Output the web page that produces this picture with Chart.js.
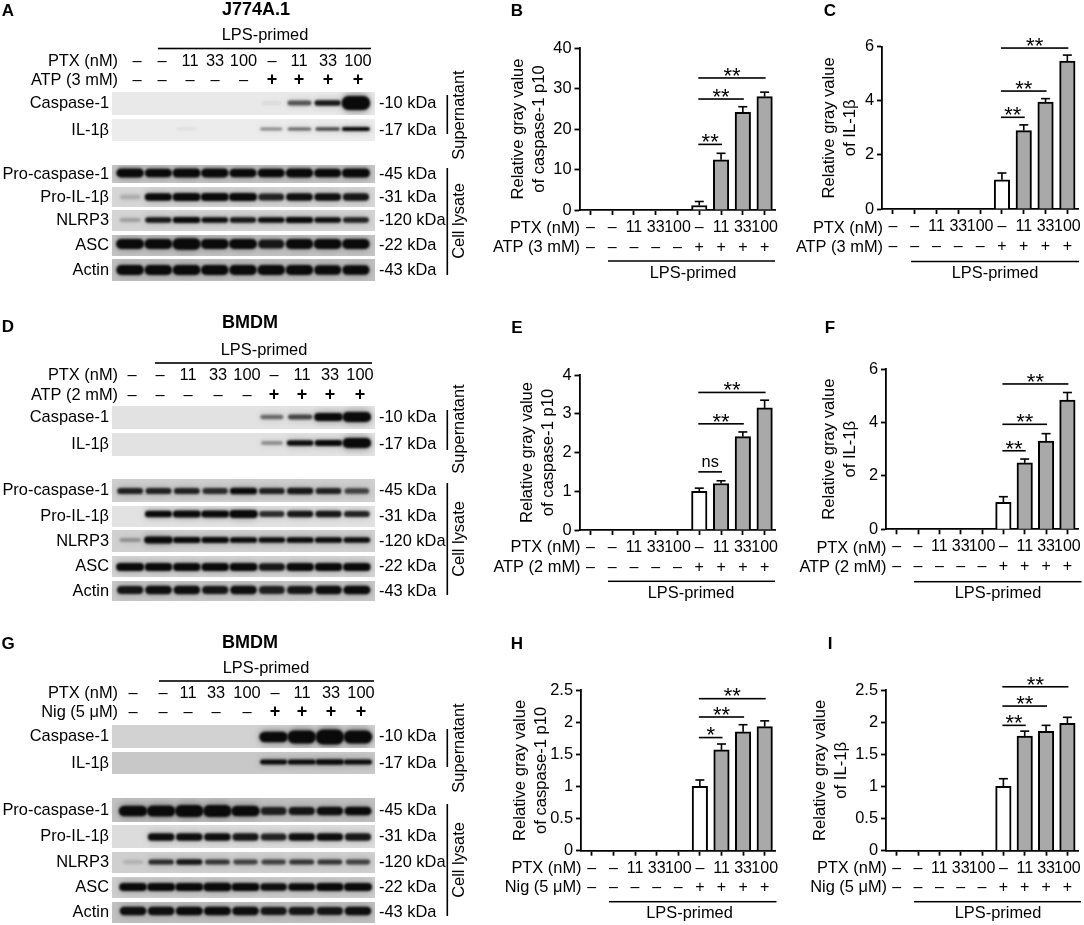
<!DOCTYPE html>
<html>
<head>
<meta charset="utf-8">
<style>
  html, body { margin: 0; padding: 0; background: #fff; }
  #fig { position: relative; width: 1084px; height: 925px; overflow: hidden; }
  canvas { position: absolute; }
</style>
<script src="https://cdn.jsdelivr.net/npm/chart.js@4"></script>
</head>
<body>
<div id="fig"></div>
<script>
// shared labels
const ptxLabels = ['–', '–', '11', '33', '100', '–', '11', '33', '100'];
const stimSigns = ['–', '–', '–', '–', '–', '+', '+', '+', '+'];
const blotNames = ['Caspase-1', 'IL-1β', 'Pro-caspase-1', 'Pro-IL-1β', 'NLRP3', 'ASC', 'Actin'];
const blotSizes = ['-10 kDa', '-17 kDa', '-45 kDa', '-31 kDa', '-120 kDa', '-22 kDa', '-43 kDa'];

// bar values and error bars
const bValues = [0, 0, 0, 0, 0, 1.1, 12.4, 24.1, 28];
const bErrors = [0, 0, 0, 0, 0, 1, 1.6, 1.4, 1.1];
const cValues = [0, 0, 0, 0, 0, 1.08, 2.9, 3.95, 5.47];
const cErrors = [0, 0, 0, 0, 0, 0.25, 0.21, 0.13, 0.22];
const eValues = [0, 0, 0, 0, 0, 1, 1.2, 2.41, 3.15];
const eErrors = [0, 0, 0, 0, 0, 0.08, 0.07, 0.12, 0.2];
const fValues = [0, 0, 0, 0, 0, 1.01, 2.49, 3.3, 4.84];
const fErrors = [0, 0, 0, 0, 0, 0.21, 0.14, 0.28, 0.28];
const hValues = [0, 0, 0, 0, 0, 1, 1.57, 1.85, 1.93];
const hErrors = [0, 0, 0, 0, 0, 0.1, 0.09, 0.11, 0.09];
const iValues = [0, 0, 0, 0, 0, 1, 1.785, 1.857, 1.98];
const iErrors = [0, 0, 0, 0, 0, 0.12, 0.075, 0.093, 0.095];

// significance brackets: from bar, to bar, height in axis units, mark
const bSig = [[5, 6, 16.2, '**'], [5, 7, 27.4, '**'], [5, 8, 32.6, '**']];
const cSig = [[5, 6, 3.39, '**'], [5, 7, 4.36, '**'], [5, 8, 5.95, '**']];
const eSig = [[5, 6, 1.5, 'ns'], [5, 7, 2.74, '**'], [5, 8, 3.55, '**']];
const fSig = [[5, 6, 2.94, '**'], [5, 7, 3.93, '**'], [5, 8, 5.44, '**']];
const hSig = [[5, 6, 1.76, '*'], [5, 7, 2.08, '**'], [5, 8, 2.365, '**']];
const iSig = [[5, 6, 1.95, '**'], [5, 7, 2.25, '**'], [5, 8, 2.55, '**']];

// band strength per lane, one array per blot row (0 = no band)
const aBands = [
  [0, 0, 0, 0, 0, 0.05, 0.55, 0.8, 1.8],
  [0, 0, 0.05, 0, 0, 0.35, 0.5, 0.6, 1],
  [0.95, 0.9, 1, 0.95, 0.9, 0.9, 0.95, 0.9, 1],
  [0.15, 0.9, 1, 1, 1, 0.75, 0.85, 0.85, 0.8],
  [0.2, 0.8, 0.95, 0.85, 0.8, 0.85, 0.95, 0.85, 0.75],
  [1, 1, 1.1, 1, 1, 0.8, 0.95, 1, 0.95],
  [0.95, 0.95, 1, 0.95, 0.95, 0.95, 0.95, 0.9, 0.9]
];
const dBands = [
  [0, 0, 0, 0, 0, 0.45, 0.6, 1.2, 1.4],
  [0, 0, 0, 0, 0, 0.3, 0.85, 0.95, 1.4],
  [0.75, 0.75, 0.75, 0.7, 0.9, 0.75, 0.8, 0.75, 0.6],
  [0, 0.9, 1, 1, 1.1, 0.7, 0.8, 0.8, 0.75],
  [0.25, 1.1, 0.95, 0.95, 0.9, 0.85, 0.9, 0.9, 0.85],
  [1, 0.95, 0.95, 0.95, 1, 0.8, 0.95, 0.95, 0.95],
  [0.8, 0.85, 0.85, 0.8, 0.85, 0.75, 0.8, 0.85, 0.9]
];
const gBands = [
  [0, 0, 0, 0, 0, 1.3, 1.5, 1.7, 1.5],
  [0, 0, 0, 0, 0, 0.9, 1, 1.05, 1],
  [1.1, 1.15, 1.2, 1.2, 1.1, 0.75, 0.8, 0.85, 0.9],
  [0, 0.85, 0.85, 0.85, 0.8, 0.75, 0.85, 0.85, 0.8],
  [0.12, 0.7, 0.8, 0.65, 0.6, 0.6, 0.65, 0.65, 0.6],
  [0.95, 1, 1, 1.05, 1, 0.85, 0.9, 0.95, 1],
  [0.85, 0.85, 0.9, 0.9, 0.85, 0.8, 0.8, 0.8, 0.85]
];

const FONT = '"Liberation Sans", Arial, sans-serif';
Chart.defaults.font.family = FONT;
Chart.defaults.color = '#000';
Chart.defaults.animation = false;

const HEAD = 15; // canvases start a little above their row so titles are not cut

function addCanvas(left, top, w, h) {
  const c = document.createElement('canvas');
  c.width = w; c.height = h;
  c.style.left = left + 'px'; c.style.top = top + 'px';
  c.style.width = w + 'px'; c.style.height = h + 'px';
  document.getElementById('fig').appendChild(c);
  return c;
}

function text(ctx, str, x, y, opts = {}) {
  ctx.save();
  ctx.font = (opts.bold ? 'bold ' : '') + (opts.size || 16.4) + 'px ' + FONT;
  ctx.fillStyle = '#000';
  ctx.textAlign = opts.align || 'center';
  ctx.textBaseline = opts.baseline || 'middle';
  ctx.translate(x, y);
  if (opts.rotate) ctx.rotate(opts.rotate);
  ctx.fillText(str, 0, 0);
  ctx.restore();
}

function hline(ctx, x1, x2, y, w) {
  ctx.fillStyle = '#000';
  ctx.fillRect(x1, y - w / 2, x2 - x1, w);
}

// ---------- bar panels ----------
const barPlugin = {
  id: 'barExtras',
  afterDatasetsDraw(chart, args, o) {
    const { ctx, scales: { x, y } } = chart;
    const ds = chart.data.datasets[0];
    // error bars, upper arm only
    ctx.fillStyle = '#000';
    ds.data.forEach((v, i) => {
      if (!o.errors[i]) return;
      const px = x.getPixelForValue(i);
      const top = y.getPixelForValue(v + o.errors[i]);
      ctx.fillRect(px - 0.8, top, 1.6, y.getPixelForValue(v) - top);
      ctx.fillRect(px - 4.5, top - 0.8, 9, 1.6);
    });
    // brackets
    o.sig.forEach(([a, b, val, mark]) => {
      const py = y.getPixelForValue(val);
      const x1 = x.getPixelForValue(a) - 1, x2 = x.getPixelForValue(b) + 1;
      hline(ctx, x1, x2, py, 1.6);
      if (mark === 'ns') text(ctx, mark, (x1 + x2) / 2, py - 9.5);
      else text(ctx, mark, (x1 + x2) / 2, py + 4.8, { size: 22, baseline: 'alphabetic' });
    });
    // row names, LPS bar and panel letter
    const a = o.area;
    text(ctx, 'PTX (nM)', a.rowRight, a.rowY1, { align: 'right' });
    text(ctx, o.stim, a.rowRight, a.rowY2, { align: 'right' });
    hline(ctx, a.lpsL, a.lpsR, a.lpsY, 1.5);
    text(ctx, 'LPS-primed', a.lpsX, a.lpsY + 12);
    text(ctx, o.letter, a.letterX, a.letterY, { bold: true, size: 17 });
  }
};

function barChart(p) {
  const W = p.W, H = p.H;
  const top0 = p.y0 - (p.y0 ? HEAD : 0); // canvas top in page pixels
  const c = addCanvas(p.x0, top0, W, p.y0 + H - top0);
  const rel = { // plugin draws in canvas coordinates
    rowRight: p.rowRight - p.x0, rowY1: p.rowY1 - top0, rowY2: p.rowY2 - top0,
    lpsL: p.lpsL - p.x0, lpsR: p.lpsR - p.x0, lpsY: p.lpsY - top0, lpsX: p.lpsX - p.x0,
    letterX: p.letterX - p.x0, letterY: p.letterY - top0
  };
  new Chart(c.getContext('2d'), {
    type: 'bar',
    data: {
      labels: ptxLabels.map((t, i) => [t, stimSigns[i]]),
      datasets: [{
        data: p.values,
        backgroundColor: p.values.map((v, i) => i === 5 ? '#ffffff' : '#a9a9a9'),
        borderColor: '#000',
        borderWidth: 2,
        barThickness: 15.5
      }]
    },
    options: {
      responsive: false,
      layout: { padding: { top: p.top - top0, right: p.x0 + W - p.plotR, left: 0, bottom: 0 } },
      plugins: {
        legend: { display: false },
        tooltip: { enabled: false },
        barExtras: { errors: p.errors, sig: p.sig, stim: p.stim, letter: p.letter, area: rel }
      },
      scales: {
        x: {
          grid: { offset: false, drawOnChartArea: false, tickLength: 5, tickColor: '#000', tickWidth: 1.8 },
          border: { color: '#000', width: 1.8 },
          ticks: { autoSkip: false, maxRotation: 0, minRotation: 0, padding: 3, color: '#000',
                   font: { size: 16, lineHeight: 1.22 } },
          afterFit: s => { s.height = p.y0 + H - p.bottom; }
        },
        y: {
          min: 0, max: p.max,
          grid: { drawOnChartArea: false, tickLength: 5, tickColor: '#000', tickWidth: 1.8 },
          border: { color: '#000', width: 1.8 },
          ticks: { stepSize: p.step, padding: 3, color: '#000', font: { size: 16.4 }, callback: v => String(v) },
          title: { display: true, text: p.title, color: '#000', align: 'center',
                   font: { size: 16.6, lineHeight: 1.27 }, padding: { top: p.titlePad, bottom: 0 } },
          afterFit: s => { s.width = p.plotL - p.x0; }
        }
      }
    },
    plugins: [barPlugin]
  });
}

const caspTitle = ['Relative gray value', 'of caspase-1 p10'];
const ilTitle = ['Relative gray value', 'of IL-1β'];

barChart({ letter: 'B', letterX: 517, letterY: 11, x0: 490, y0: 0, W: 300, H: 320, plotL: 579.5, plotR: 775.5, top: 48, bottom: 210,
  max: 40, step: 10, values: bValues, errors: bErrors, sig: bSig, title: caspTitle, titlePad: 17.5, stim: 'ATP (3 mM)',
  rowRight: 580, rowY1: 228, rowY2: 247.5, lpsL: 608, lpsR: 775, lpsY: 261, lpsX: 693 });
barChart({ letter: 'C', letterX: 830, letterY: 11, x0: 790, y0: 0, W: 294, H: 320, plotL: 882, plotR: 1078.5, top: 46.7, bottom: 209,
  max: 6, step: 2, values: cValues, errors: cErrors, sig: cSig, title: ilTitle, titlePad: 28.5, stim: 'ATP (3 mM)',
  rowRight: 883, rowY1: 228, rowY2: 247.5, lpsL: 911, lpsR: 1079, lpsY: 261.5, lpsX: 995 });
barChart({ letter: 'E', letterX: 517, letterY: 328, x0: 490, y0: 320, W: 300, H: 320, plotL: 579.5, plotR: 775.5, top: 375, bottom: 530,
  max: 4, step: 1, values: eValues, errors: eErrors, sig: eSig, title: caspTitle, titlePad: 27, stim: 'ATP (2 mM)',
  rowRight: 580.5, rowY1: 547.7, rowY2: 567, lpsL: 608, lpsR: 775, lpsY: 581.3, lpsX: 691 });
barChart({ letter: 'F', letterX: 830, letterY: 328, x0: 790, y0: 320, W: 294, H: 320, plotL: 886, plotR: 1079.5, top: 369, bottom: 529.3,
  max: 6, step: 2, values: fValues, errors: fErrors, sig: fSig, title: ilTitle, titlePad: 28.5, stim: 'ATP (2 mM)',
  rowRight: 886.5, rowY1: 548, rowY2: 567.7, lpsL: 914, lpsR: 1081.5, lpsY: 581.7, lpsX: 998 });
barChart({ letter: 'H', letterX: 517, letterY: 644, x0: 490, y0: 640, W: 300, H: 285, plotL: 581, plotR: 775.5, top: 690, bottom: 850.7,
  max: 2.5, step: 0.5, values: hValues, errors: hErrors, sig: hSig, title: caspTitle, titlePad: 20, stim: 'Nig (5 μM)',
  rowRight: 581.5, rowY1: 868, rowY2: 887.7, lpsL: 609, lpsR: 776.5, lpsY: 901.7, lpsX: 689.5 });
barChart({ letter: 'I', letterX: 830, letterY: 644, x0: 790, y0: 640, W: 294, H: 285, plotL: 886, plotR: 1079.5, top: 690, bottom: 850.7,
  max: 2.5, step: 0.5, values: iValues, errors: iErrors, sig: iSig, title: ilTitle, titlePad: 19.5, stim: 'Nig (5 μM)',
  rowRight: 887, rowY1: 868, rowY2: 887.7, lpsL: 914, lpsR: 1081, lpsY: 901.7, lpsX: 998 });

// ---------- western blots ----------
const blotPlugin = {
  id: 'blot',
  afterDatasetsDraw(chart, args, o) {
    const { ctx, scales: { x, y } } = chart;
    ctx.save();
    ctx.translate(0, HEAD);
    chart.data.datasets.forEach((ds, r) => {
      const [t, b] = o.strips[r];
      ctx.fillStyle = o.greys[r];
      ctx.fillRect(112, t, 263, b - t);
      ctx.save();
      ctx.beginPath(); ctx.rect(112, t, 263, b - t); ctx.clip();
      ds.data.forEach(pt => {
        if (!pt.v) return;
        const px = x.getPixelForValue(pt.x), py = y.getPixelForValue(pt.y);
        const s = Math.min(pt.v, 2);
        const w = 26.5 * Math.min(1.08, 0.72 + 0.34 * s);
        const h = o.bandH[r] * (0.55 + 0.45 * s + Math.max(0, s - 1) * 1.2);
        ctx.filter = 'blur(3px)';
        ctx.fillStyle = 'rgba(20,20,20,' + Math.min(0.4, 0.28 * s) + ')';
        ctx.beginPath(); ctx.roundRect(px - w / 2, py - h * 0.7, w, h * 1.4, h * 0.6); ctx.fill();
        ctx.filter = 'blur(1px)';
        ctx.fillStyle = 'rgba(10,10,10,' + Math.min(1, s * 1.15) + ')';
        ctx.beginPath(); ctx.roundRect(px - w / 2, py - h / 2, w, h, h / 2); ctx.fill();
      });
      ctx.restore();
      text(ctx, blotNames[r], 109, (t + b) / 2, { align: 'right' });
      text(ctx, blotSizes[r], 379, (t + b) / 2, { align: 'left' });
    });
    // header rows
    text(ctx, o.letter, 8, o.letterY, { bold: true, size: 17 });
    text(ctx, o.cell, o.cellX, o.cellY, { bold: true, size: 18 });
    text(ctx, 'LPS-primed', o.lpsX, o.lpsY - 13);
    hline(ctx, o.lpsL, o.lpsR, o.lpsY, 1.6);
    text(ctx, 'PTX (nM)', 118, o.row1, { align: 'right' });
    text(ctx, o.stim, 118, o.row2, { align: 'right' });
    o.labelX.forEach((lx, i) => {
      text(ctx, ptxLabels[i], lx, o.row1);
      text(ctx, stimSigns[i], lx, o.row2, stimSigns[i] === '+' ? { bold: true, size: 18 } : {});
    });
    // fraction bars on the right
    ctx.fillStyle = '#000';
    ctx.fillRect(446.5, o.supBar[0], 1.6, o.supBar[1] - o.supBar[0]);
    ctx.fillRect(446.5, o.cellBar[0], 1.6, o.cellBar[1] - o.cellBar[0]);
    text(ctx, 'Supernatant', 459, o.supY, { rotate: -Math.PI / 2 });
    text(ctx, 'Cell lysate', 459, o.cellLabelY, { rotate: -Math.PI / 2 });
    ctx.restore();
  }
};

function blotChart(p) {
  const c = addCanvas(0, p.y0 - HEAD, 490, p.H + HEAD);
  new Chart(c.getContext('2d'), {
    type: 'scatter',
    data: {
      datasets: p.bands.map((vals, r) => ({
        label: blotNames[r],
        pointRadius: 0,
        data: vals.map((v, i) => ({ x: i, y: p.bandY[r], v }))
      }))
    },
    options: {
      responsive: false,
      layout: { padding: { left: p.laneL - 14, right: 490 - p.laneR - 14, top: 0, bottom: 0 } },
      plugins: { legend: { display: false }, tooltip: { enabled: false }, blot: p },
      scales: {
        x: { type: 'linear', display: false, min: -0.5, max: 8.5 },
        y: { type: 'linear', display: false, min: 0, max: p.H + HEAD, reverse: true }
      }
    },
    plugins: [blotPlugin]
  });
}

blotChart({ letter: 'A', letterY: 11, y0: 0, H: 320, bands: aBands, cell: 'J774A.1', cellX: 256, cellY: 10, stim: 'ATP (3 mM)',
  laneL: 130, laneR: 356, lpsX: 265, lpsY: 48.5, lpsL: 158, lpsR: 371, row1: 61, row2: 80,
  labelX: [137, 162, 190, 215, 243.5, 272, 299, 328, 358],
  strips: [[92, 115], [119, 141], [165, 183], [187, 207], [210, 231], [235, 256], [259, 281]],
  bandY: [103, 129, 173, 197, 220, 244, 270],
  bandH: [6, 4, 9, 8, 6, 10, 10],
  greys: ['#e9e9e9', '#ececec', '#c6c6c6', '#d6d6d6', '#d4d4d4', '#c4c4c4', '#c0c0c0'],
  supBar: [95, 134], cellBar: [168, 275], supY: 115, cellLabelY: 221 });
blotChart({ letter: 'D', letterY: 7, y0: 320, H: 320, bands: dBands, cell: 'BMDM', cellX: 250, cellY: 3, stim: 'ATP (2 mM)',
  laneL: 130, laneR: 357, lpsX: 264, lpsY: 43, lpsL: 155, lpsR: 372, row1: 55, row2: 75,
  labelX: [132, 160, 188, 218, 247, 274, 302, 330, 360],
  strips: [[86, 109], [113, 136], [159, 182], [186, 207], [210, 232], [236, 257], [261, 281]],
  bandY: [97, 123, 171, 194, 220, 247, 270],
  bandH: [6, 6, 7, 7, 6, 8, 9],
  greys: ['#e2e2e2', '#e2e2e2', '#cfcfcf', '#e2e2e2', '#d0d0d0', '#d4d4d4', '#c8c8c8'],
  supBar: [90, 130], cellBar: [163, 275], supY: 109, cellLabelY: 219 });
blotChart({ letter: 'G', letterY: 4, y0: 640, H: 285, bands: gBands, cell: 'BMDM', cellX: 250, cellY: 3, stim: 'Nig (5 μM)',
  laneL: 133, laneR: 358, lpsX: 266, lpsY: 41, lpsL: 159, lpsR: 374, row1: 53, row2: 72,
  labelX: [133, 163, 188, 216, 247, 275, 302, 331, 361],
  strips: [[85, 108], [112, 134], [158, 182], [185, 208], [212, 233], [237, 258], [262, 283]],
  bandY: [97, 122, 171, 197, 222, 247, 271],
  bandH: [7, 5, 9, 8, 6, 8, 9],
  greys: ['#d2d2d2', '#c8c8c8', '#c0c0c0', '#dcdcdc', '#cfcfcf', '#cdcdcd', '#c0c0c0'],
  supBar: [89, 127], cellBar: [164, 276], supY: 108, cellLabelY: 220 });
</script>
</body>
</html>
